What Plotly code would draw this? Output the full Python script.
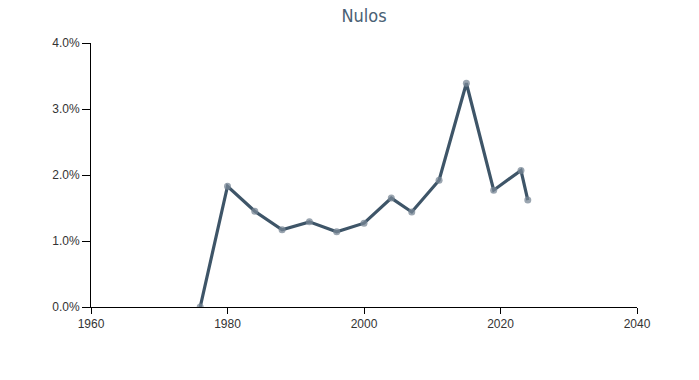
import plotly.graph_objects as go

years = [1976, 1980, 1984, 1988, 1992, 1996, 2000, 2004, 2007, 2011, 2015, 2019, 2023, 2024]
nulos = [0.0, 1.83, 1.45, 1.17, 1.29, 1.14, 1.27, 1.65, 1.44, 1.92, 3.39, 1.77, 2.07, 1.62]
x_ticks = [1960, 1980, 2000, 2020, 2040]
y_ticks = [0, 1, 2, 3, 4]
y_labels = ["0.0%", "1.0%", "2.0%", "3.0%", "4.0%"]

line_color = "#3e5568"

fig = go.Figure()
fig.add_trace(go.Scatter(
    x=years, y=nulos, mode="lines",
    line=dict(color=line_color, width=3.2),
    hoverinfo="skip", showlegend=False,
))
fig.add_trace(go.Scatter(
    x=years, y=nulos, mode="markers",
    marker=dict(size=7, color="rgba(120,135,150,0.75)", line=dict(width=0)),
    showlegend=False,
))

axis_font = dict(family="Liberation Sans, Arial, sans-serif", size=12, color="#333333")
fig.update_layout(
    width=699, height=380,
    margin=dict(l=91, r=62, t=43, b=73),
    paper_bgcolor="white", plot_bgcolor="white",
    title=dict(text="Nulos", x=0.5, xanchor="center", xref="paper",
               y=1 - 16 / 380, yref="container", yanchor="middle",
               font=dict(family="Liberation Sans Narrow, DejaVu Sans Condensed, Roboto, sans-serif",
                         size=18, color="#4a6175")),
    xaxis=dict(range=[1960, 2040], tickvals=x_ticks, ticktext=[str(v) for v in x_ticks],
               showgrid=False, zeroline=False, showline=True, linecolor="black", linewidth=1,
               ticks="outside", ticklen=6, tickcolor="black", tickfont=axis_font),
    yaxis=dict(range=[0, 4], tickvals=y_ticks, ticktext=y_labels,
               showgrid=False, zeroline=False, showline=True, linecolor="black", linewidth=1,
               ticks="outside", ticklen=8, tickcolor="black", tickfont=axis_font),
)

fig.write_html("out.html")
